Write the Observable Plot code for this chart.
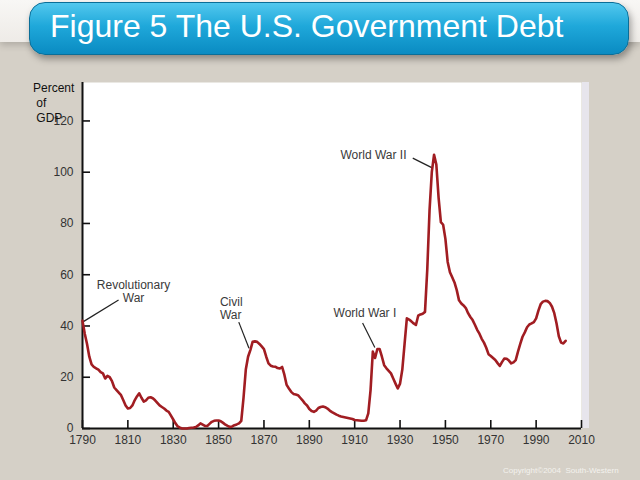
<!DOCTYPE html>
<html><head><meta charset="utf-8">
<script src="https://cdn.jsdelivr.net/npm/d3@7"></script>
<script src="https://cdn.jsdelivr.net/npm/@observablehq/plot@0.6"></script>
<style>
html,body{margin:0;padding:0;}
body{width:640px;height:480px;position:relative;overflow:hidden;background:#d5d0c7;font-family:"Liberation Sans",Arial,sans-serif;}
#topband{position:absolute;left:0;top:0;width:640px;height:42px;background:linear-gradient(#f8f7f5,#eeebe7);box-shadow:0 3px 7px rgba(0,0,0,0.18);}
#banner{position:absolute;left:29px;top:2px;width:600px;height:53px;box-sizing:border-box;border-radius:16px;background:linear-gradient(#52c8ee,#1fa8da 45%,#0a8bc2);border:1px solid #0a6e98;box-shadow:2px 4px 7px rgba(0,0,0,0.35);}
#title{position:absolute;left:50px;top:10px;color:#fff;font-size:32px;line-height:32px;white-space:nowrap;}
#shadowstrip{position:absolute;left:582px;top:82px;width:7px;height:346px;background:#e7e5ec;}
#ylab{position:absolute;left:33px;top:81px;font-size:12px;line-height:15px;color:#111;}
#copy{position:absolute;left:503px;top:466px;font-size:8px;color:#f4f2ee;white-space:nowrap;}
#chart{position:absolute;left:0;top:0;}
</style></head>
<body>
<div id="topband"></div>
<div id="banner"></div>
<div id="title">Figure 5 The U.S. Government Debt</div>
<div id="shadowstrip"></div>
<div id="chart"></div>
<div id="ylab">Percent<br>&nbsp;of<br>&nbsp;GDP</div>
<div id="copy">Copyright©2004 &nbsp;South-Western</div>
<script>
const years = [1790,1791,1792,1793,1794,1795,1796,1797,1798,1799,1800,1801,1802,1803,1804,1805,1806,1807,1808,1809,
1810,1811,1812,1813,1814,1815,1816,1817,1818,1819,1820,1821,1822,1823,1824,1825,1826,1827,1828,1829,
1830,1831,1832,1833,1834,1835,1836,1837,1838,1839,1840,1841,1842,1843,1844,1845,1846,1847,1848,1849,
1850,1851,1852,1853,1854,1855,1856,1857,1858,1859,1860,1861,1862,1863,1864,1865,1866,1867,1868,1869,
1870,1871,1872,1873,1874,1875,1876,1877,1878,1879,1880,1881,1882,1883,1884,1885,1886,1887,1888,1889,
1890,1891,1892,1893,1894,1895,1896,1897,1898,1899,1900,1901,1902,1903,1904,1905,1906,1907,1908,1909,
1910,1911,1912,1913,1914,1915,1916,1917,1918,1919,1920,1921,1922,1923,1924,1925,1926,1927,1928,1929,
1930,1931,1932,1933,1934,1935,1936,1937,1938,1939,1940,1941,1942,1943,1944,1945,1946,1947,1948,1949,
1950,1951,1952,1953,1954,1955,1956,1957,1958,1959,1960,1961,1962,1963,1964,1965,1966,1967,1968,1969,
1970,1971,1972,1973,1974,1975,1976,1977,1978,1979,1980,1981,1982,1983,1984,1985,1986,1987,1988,1989,
1990,1991,1992,1993,1994,1995,1996,1997,1998,1999,2000,2001,2002,2003];
const debtPct = [42,37,33,28,25,24,23.5,23,22,21.5,19.5,20.5,20,18.5,16,15,14,13,11,9,
7.8,8,9,11,12.5,13.7,12,10.5,11,12,12.2,11.8,11,10,9,8.4,7.8,7,6.5,5,
3.5,2,0.8,0.3,0,0,0,0.2,0.3,0.4,0.6,1.2,2,1.5,1,1,1.8,2.6,3,3.1,
3.1,2.8,2.2,1.5,1,0.6,0.8,1.3,1.6,2,3,12,23,28,30.6,33.8,34,33.8,33,32,
31,28,25.4,24.5,24.2,24.1,23.6,23.4,24,21,17,15.6,14.3,13.5,13.3,13,12,11,9.8,9,
7.6,6.8,6.5,7,8,8.4,8.6,8.3,7.8,7,6.4,5.9,5.4,5,4.7,4.5,4.3,4.1,3.9,3.7,
3.3,3.2,3.1,3,3,3.2,5.9,15,30,27.5,31,31,28,24.7,23.5,22.5,21.5,19.5,17.5,15.6,
17.5,23,33,43,42.5,41.8,41,40.4,44,44.5,44.8,45.5,62,85,100,106.8,103,90,80.5,79.5,
74,65,61,59,57,54,50,48.8,48,47,45,43.5,42.3,40.5,38.5,37,35,33.5,31.5,29,
28.3,27.5,26.7,25.5,24.4,26,27.3,27.2,26.5,25.4,25.8,26.7,30,33,35.8,37.5,39.5,40.6,41,41.5,
43,46,48.5,49.5,49.8,49.7,49,47.5,45,41,36,33.5,33.2,34.2];
const xTicks = [1790,1810,1830,1850,1870,1890,1910,1930,1950,1970,1990,2010];
const yTicks = [0,20,40,60,80,100,120];

const noteLabels = ["Revolutionary\nWar","Civil\nWar","World War I","World War II"];
const noteYears = [1812.5,1850.6,1914.5,1918.3];
const noteValues = [53.6,46.8,45.0,106.8];
const leaderFromYear = [1790.2,1858.9,1913.5,1935.6];
const leaderFromValue = [41.6,41.5,41.2,105.5];
const leaderToYear = [1805.9,1863.4,1918.9,1944.4];
const leaderToValue = [50.1,31.3,31.6,101.6];

const series = years.map((y,i)=>({year:y, pct:debtPct[i]}));
const notes = noteLabels.map((t,i)=>({label:t, year:noteYears[i], value:noteValues[i]}));
const leaders = leaderFromYear.map((y,i)=>({x1:y, y1:leaderFromValue[i], x2:leaderToYear[i], y2:leaderToValue[i]}));

const chart = Plot.plot({
  width:640, height:480,
  marginLeft:82, marginRight:59, marginTop:82, marginBottom:52,
  x:{domain:[1790,2010]},
  y:{domain:[0,135]},
  style:{background:"transparent", fontFamily:"'Liberation Sans', Arial, sans-serif", fontSize:"12px", color:"#333"},
  marks:[
    Plot.frame({fill:"white", stroke:null}),
    Plot.axisX({ticks:xTicks, tickFormat:d=>String(d), tickSize:-8, tickPadding:15, stroke:"#111", strokeWidth:1.6, fill:"#333", label:null, fontSize:12}),
    Plot.axisY({ticks:yTicks, tickSize:-8, tickPadding:17, stroke:"#111", strokeWidth:1.6, fill:"#333", label:null, fontSize:12}),
    Plot.ruleX([1790], {stroke:"#111", strokeWidth:2}),
    Plot.ruleY([0], {stroke:"#111", strokeWidth:2}),
    Plot.link(leaders, {x1:"x1", y1:"y1", x2:"x2", y2:"y2", stroke:"#222", strokeWidth:1.2}),
    Plot.line(series, {x:"year", y:"pct", stroke:"#a11d22", strokeWidth:2.6, strokeLinejoin:"round"}),
    Plot.text(notes.filter(d=>d.label.startsWith("Civil")), {x:"year", y:"value", text:"label", textAnchor:"start", lineHeight:1.1, fontSize:12, fill:"#3a3a3a"}),
    Plot.text(notes.filter(d=>!d.label.startsWith("Civil")), {x:"year", y:"value", text:"label", textAnchor:"middle", lineHeight:1.12, fontSize:12, fill:"#3a3a3a"})
  ]
});
document.getElementById("chart").appendChild(chart);
</script>
</body></html>
